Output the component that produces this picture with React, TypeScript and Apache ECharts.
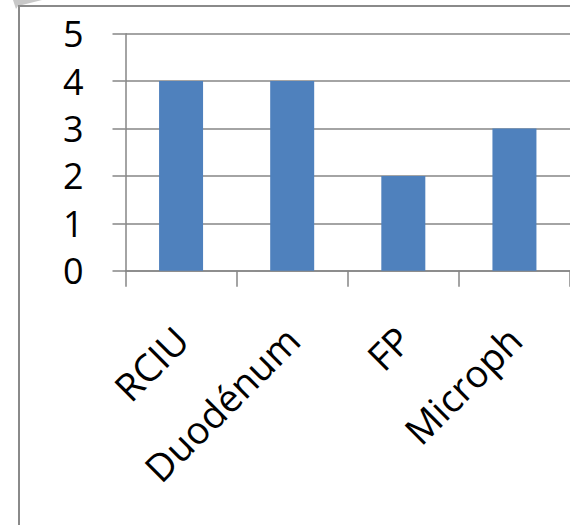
import React, { useEffect, useRef } from "react";
import * as echarts from "echarts";

const categories = ["RCIU", "Duodénum", "FP", "Microph"];
const values = [4, 4, 2, 3];
const yMin = 0;
const yMax = 5;
const yInterval = 1;

export default function App() {
  const ref = useRef<HTMLDivElement>(null);
  useEffect(() => {
    document.body.style.margin = "0";
    document.body.style.overflow = "hidden";
    const chart = echarts.init(ref.current!, null, { renderer: "svg" });
    const gray = "#868686";
    chart.setOption({
      animation: false,
      backgroundColor: "#ffffff",
      grid: { left: 125.5, top: 33.7, width: 448, height: 237 },
      xAxis: {
        type: "category",
        data: categories,
        boundaryGap: true,
        axisLine: { show: true, lineStyle: { color: gray, width: 1.5 } },
        axisTick: { show: true, length: 16, alignWithLabel: false, lineStyle: { color: gray, width: 1.5 } },
        axisLabel: {
          rotate: 45,
          margin: 62,
          padding: [14, 0, 0, 0],
          interval: 0,
          color: "#000",
          fontFamily: "Open Sans",
          fontSize: 38,
        },
      },
      yAxis: {
        type: "value",
        min: yMin,
        max: yMax,
        interval: yInterval,
        axisLine: { show: true, lineStyle: { color: gray, width: 1.5 } },
        axisTick: { show: true, length: 13, lineStyle: { color: gray, width: 1.5 } },
        splitLine: { show: true, lineStyle: { color: gray, width: 1.5 } },
        axisLabel: {
          margin: 42,
          color: "#000",
          fontFamily: "Open Sans",
          fontSize: 36,
        },
      },
      series: [
        {
          type: "bar",
          data: values,
          barWidth: 44,
          itemStyle: { color: "#4f81bd" },
        },
      ],
      graphic: [
        {
          type: "polygon",
          shape: { points: [[13, 0], [42, 0], [18, 6], [16, 9]] },
          style: { fill: "#c8c8c8" },
          silent: true,
        },
        {
          type: "polyline",
          shape: { points: [[19, 525], [19, 6], [570, 6]] },
          style: { stroke: "#8a8a8a", lineWidth: 2, fill: "none" },
          silent: true,
        },
      ],
    });
    return () => chart.dispose();
  }, []);
  return <div ref={ref} style={{ width: 570, height: 525 }} />;
}
